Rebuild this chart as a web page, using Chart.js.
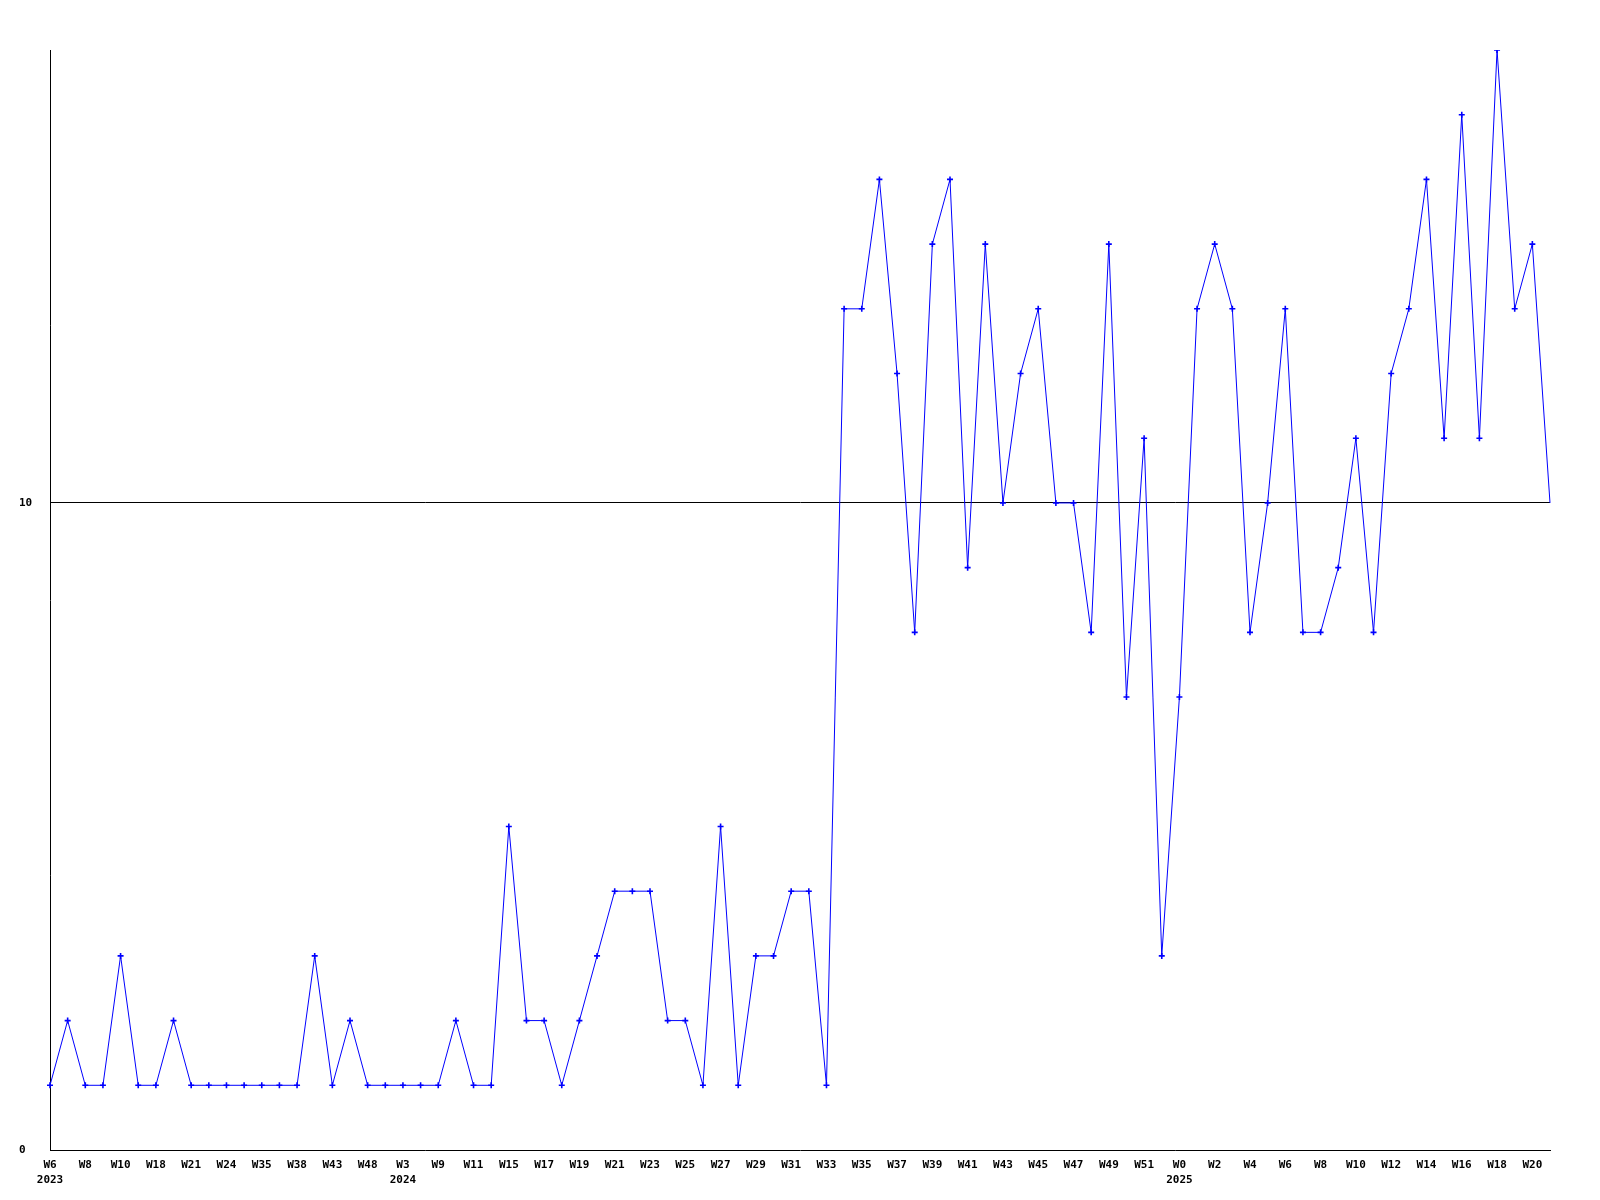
<!DOCTYPE html>
<html>
<head>
<meta charset="utf-8">
<script src="https://cdn.jsdelivr.net/npm/chart.js@4/dist/chart.umd.min.js"></script>
<style>
  body { margin: 0; background: #fff; }
  #wrap { width: 1600px; height: 1200px; }
</style>
</head>
<body>
<div id="wrap"><canvas id="chart" width="1600" height="1200"></canvas></div>
<script>
// Valeurs par semaine (86 points)
const values = [
    1, 2, 1, 1, 3, 1, 1, 2, 1, 1,
    1, 1, 1, 1, 1, 3, 1, 2, 1, 1,
    1, 1, 1, 2, 1, 1, 5, 2, 2, 1,
    2, 3, 4, 4, 4, 2, 2, 1, 5, 1,
    3, 3, 4, 4, 1, 13, 13, 15, 12, 8,
    14, 15, 9, 14, 10, 12, 13, 10, 10, 8,
    14, 7, 11, 3, 7, 13, 14, 13, 8, 10,
    13, 8, 8, 9, 11, 8, 12, 13, 15, 11,
    16, 11, 17, 13, 14, 10
];

// Etiquettes affichées (un point sur deux)
const tickLabels = [
    'W6', 'W8', 'W10', 'W18', 'W21', 'W24', 'W35', 'W38', 'W43', 'W48',
    'W3', 'W9', 'W11', 'W15', 'W17', 'W19', 'W21', 'W23', 'W25', 'W27',
    'W29', 'W31', 'W33', 'W35', 'W37', 'W39', 'W41', 'W43', 'W45', 'W47',
    'W49', 'W51', 'W0', 'W2', 'W4', 'W6', 'W8', 'W10', 'W12', 'W14',
    'W16', 'W18', 'W20'
];

// Année sous la première semaine de chaque année
const yearTicks = ['2023', '2024', '2025'];
const yearTickIndex = [0, 20, 64];

const yTicks = [0, 10];
const yMax = 17;

const categories = values.map((v, i) => {
    if (i % 2 !== 0) return '';
    const k = yearTickIndex.indexOf(i);
    const w = tickLabels[i / 2];
    return k >= 0 ? [w, yearTicks[k]] : w;
});

const tickFont = { family: '"DejaVu Sans Mono", monospace', size: 11, weight: 'bold', lineHeight: 1.4 };

new Chart(document.getElementById('chart'), {
    type: 'line',
    data: {
        labels: categories,
        datasets: [{
            data: values,
            borderColor: '#0000ff',
            backgroundColor: '#0000ff',
            borderWidth: 1,
            tension: 0,
            pointStyle: 'cross',
            pointRadius: ctx => ctx.dataIndex === values.length - 1 ? 0 : 3,
            pointBorderWidth: 1.6,
            pointBorderColor: '#0000ff'
        }]
    },
    options: {
        responsive: false,
        animation: false,
        layout: { padding: { top: 50, right: 50, left: 19, bottom: 0 } },
        plugins: {
            legend: { display: false },
            tooltip: { enabled: false }
        },
        scales: {
            x: {
                offset: false,
                grid: { display: false, drawTicks: false },
                border: { display: true, color: '#000', width: 1 },
                ticks: {
                    autoSkip: false,
                    maxRotation: 0,
                    padding: 7,
                    color: '#000',
                    font: tickFont
                },
                afterFit: scale => { scale.height = 50; }
            },
            y: {
                min: 0,
                max: yMax,
                afterBuildTicks: scale => { scale.ticks = yTicks.map(v => ({ value: v })); },
                grid: {
                    drawTicks: false,
                    color: ctx => ctx.tick && ctx.tick.value === 10 ? '#000' : 'rgba(0,0,0,0)',
                    lineWidth: 1
                },
                border: { display: true, color: '#000', width: 1 },
                ticks: {
                    crossAlign: 'far',
                    padding: 0,
                    color: '#000',
                    font: tickFont
                },
                afterFit: scale => { scale.width = 31; }
            }
        }
    }
});
</script>
</body>
</html>
